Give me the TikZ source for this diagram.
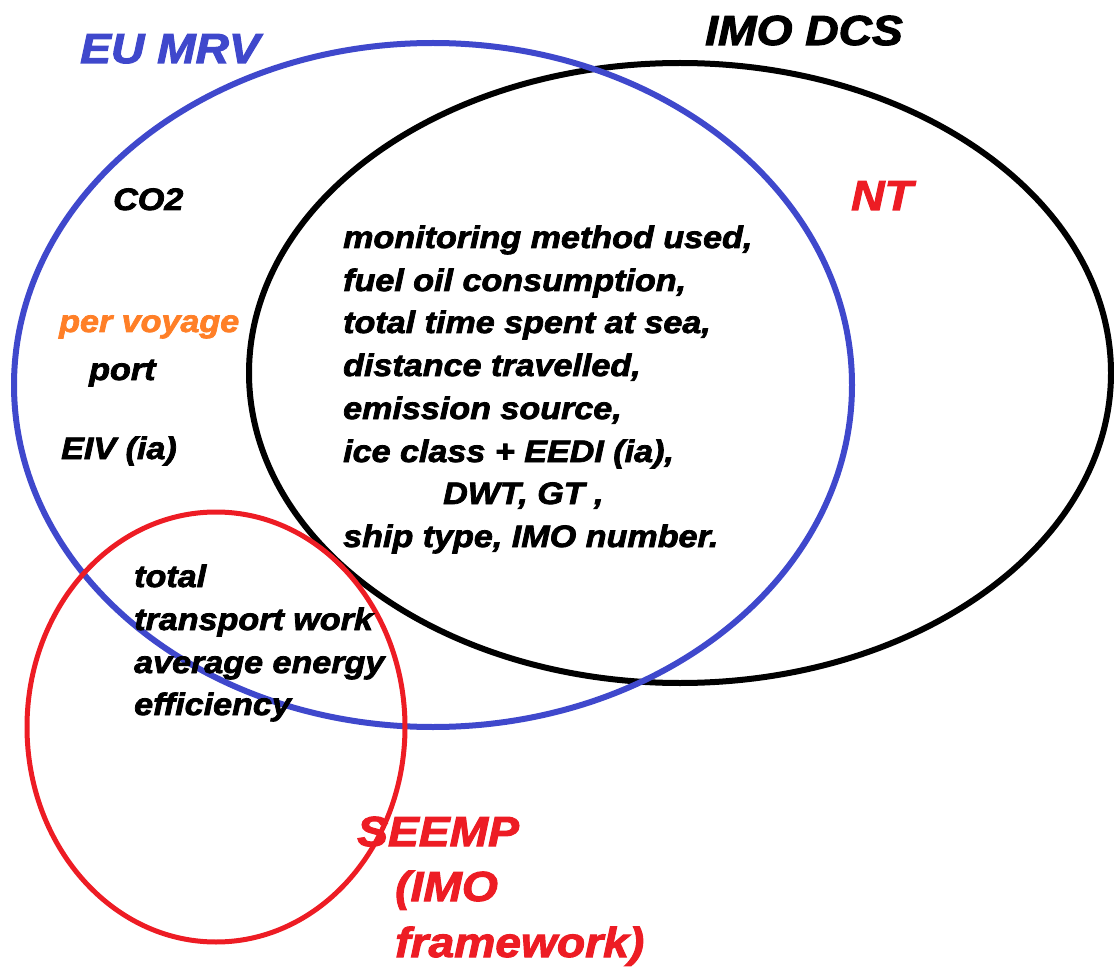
\documentclass[tikz,border=0pt]{standalone}
\usepackage{fontspec}
\setmainfont{Liberation Sans}[FakeStretch=1.1,FakeBold=2.5]
\definecolor{mrvblue}{RGB}{63,72,204}
\definecolor{seempred}{RGB}{237,28,36}
\definecolor{voyorange}{RGB}{255,127,39}
\tikzset{
	big/.style={anchor=base west, inner sep=0pt, font=\fontsize{42}{50}\selectfont\bfseries\itshape},
	small/.style={anchor=base west, inner sep=0pt, font=\fontsize{31}{43}\selectfont\bfseries\itshape},
}

\begin{document}
\begin{tikzpicture}[x=1pt,y=-1pt]
				\useasboundingbox (0,0) rectangle (1114,968);
				
				\draw[line width=6pt, black] (680,373) ellipse (431 and 310);
				\draw[line width=6pt, mrvblue] (433,385) ellipse (419 and 342);
				\draw[line width=5pt, seempred] (216,727) ellipse (189 and 215);
				
				\node[big, text=mrvblue] (eumrv) at (80,63) {EU MRV};
				\node[big] (imodcs) at (705,45) {IMO DCS};
				\node[big, text=seempred] (nt) at (851,210) {NT};
				
				\node[small] (co2) at (113,210) {CO2};
				\node[small, text=voyorange] (voyage) at (59,332) {per voyage};
				\node[small] (port) at (89,380) {port};
				\node[small] (eiv) at (61,459) {EIV (ia)};
				
				\node[small] (method) at (343,248) {monitoring method used,};
				\node[small] (fuel) at (343,291) {fuel oil consumption,};
				\node[small] (time) at (343,333) {total time spent at sea,};
				\node[small] (distance) at (343,376) {distance travelled,};
				\node[small] (source) at (343,419) {emission source,};
				\node[small] (eedi) at (343,462) {ice class + EEDI (ia),};
				\node[small] (dwt) at (443,504) {DWT, GT ,};
				\node[small] (shiptype) at (343,547) {ship type, IMO number.};
				
				\node[small] (total) at (134,587) {total};
				\node[small] (transport) at (134,630) {transport work};
				\node[small] (average) at (134,673) {average energy};
				\node[small] (efficiency) at (134,715) {efficiency};
				
				\node[big, text=seempred] (seemp) at (357,846) {SEEMP};
				\node[big, text=seempred] (imo) at (395,901) {(IMO};
				\node[big, text=seempred] (framework) at (395,957) {framework)};
			\end{tikzpicture}
\end{document}
